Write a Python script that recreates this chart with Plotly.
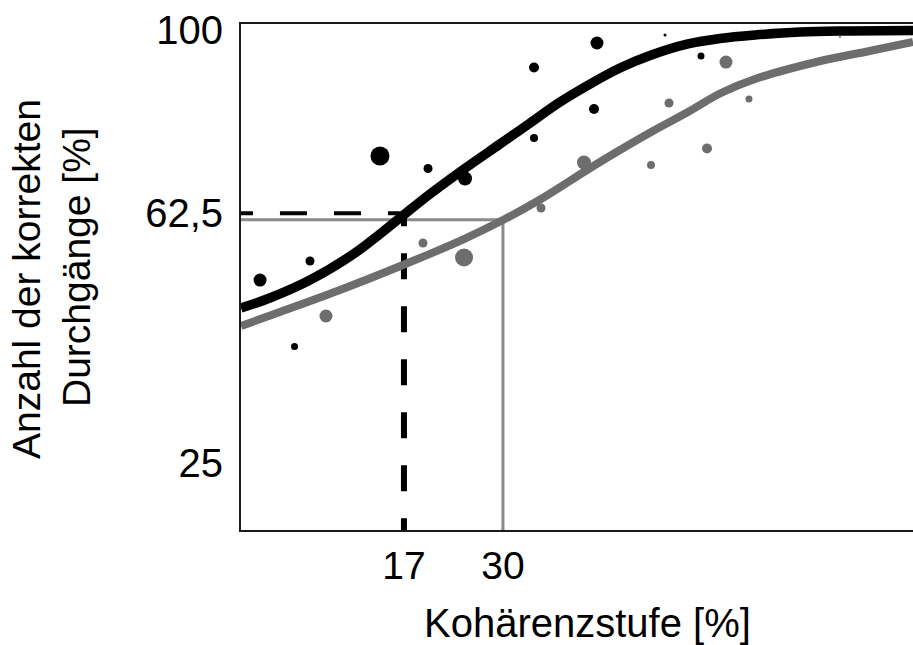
import plotly.graph_objects as go

# ---- data ----
black_dot_x = [-1.90, 4.66, 2.63, 13.85, 20.16, 25.02, 34.08, 34.08, 42.35, 41.96, 51.28, 56.01]
black_dot_y = [48.85, 52.74, 35.25, 74.22, 71.67, 69.62, 92.33, 77.91, 97.34, 83.84, 98.98, 94.68]
black_dot_size = [13, 9, 7, 19, 9, 14, 10, 8, 13, 10, 3, 7]

gray_dot_x = [6.76, 19.50, 24.89, 35.00, 40.64, 49.44, 51.81, 56.80, 59.29, 62.31, 74.26]
gray_dot_y = [41.49, 56.42, 53.46, 63.58, 72.89, 72.38, 85.07, 75.76, 93.45, 85.88, 98.57]
gray_dot_size = [13, 9, 18, 9, 14, 8, 9, 10, 13, 7, 2]

black_curve_x = [-4.40, -0.46, 4.66, 10.57, 13.85, 16.87, 20.42, 24.88, 29.61, 33.55,
                 37.49, 41.43, 45.37, 49.31, 54.30, 58.50, 63.10, 69.01, 75.58, 83.85]
black_curve_y = [43.13, 45.27, 48.85, 54.38, 58.27, 62.05, 66.45, 71.56, 76.68, 80.97,
                 85.27, 88.95, 92.23, 94.78, 97.14, 98.26, 98.98, 99.59, 99.80, 99.90]

gray_curve_x = [-4.40, 0.72, 8.60, 16.87, 24.88, 30.01, 35.00, 41.04, 45.37, 49.70,
                54.30, 58.63, 63.10, 71.70, 78.14, 83.85]
gray_curve_y = [39.44, 42.31, 46.81, 51.92, 57.24, 61.13, 65.43, 71.36, 75.45, 79.34,
                83.22, 87.11, 89.98, 93.66, 95.70, 97.55]

black_threshold_x = 17
black_threshold_y = 62.5
gray_threshold_x = 30
gray_threshold_y = 61.2

x_range = [-4.40, 83.85]
y_range = [-2.29, 101.23]

x_tick_vals = [17, 30]
x_tick_text = ["17", "30"]
y_tick_vals = [100, 62.5, 11.4]
y_tick_text = ["100", "62,5", "25"]

x_title = "Kohärenzstufe [%]"
y_title_lines = ["Anzahl der korrekten", "Durchgänge [%]"]

BLACK = "#000000"
GRAY = "#6d6d6d"
LIGHT_GRAY = "#8a8a8a"
FONT = "Liberation Sans, Arial, sans-serif"

fig = go.Figure()

# dots
fig.add_trace(go.Scatter(x=black_dot_x, y=black_dot_y, mode="markers",
                         marker=dict(color=BLACK, size=black_dot_size, opacity=1,
                                     line=dict(width=0)),
                         showlegend=False, hoverinfo="skip"))
fig.add_trace(go.Scatter(x=gray_dot_x, y=gray_dot_y, mode="markers",
                         marker=dict(color=GRAY, size=gray_dot_size, opacity=1,
                                     line=dict(width=0)),
                         showlegend=False, hoverinfo="skip"))

# gray threshold lines (thin, solid)
fig.add_trace(go.Scatter(x=[x_range[0], gray_threshold_x, gray_threshold_x],
                         y=[gray_threshold_y, gray_threshold_y, y_range[0]],
                         mode="lines", line=dict(color=LIGHT_GRAY, width=3),
                         showlegend=False, hoverinfo="skip"))

# black dashed threshold lines (drawn from the corner outwards)
fig.add_trace(go.Scatter(x=[black_threshold_x, x_range[0]],
                         y=[black_threshold_y, black_threshold_y],
                         mode="lines",
                         line=dict(color=BLACK, width=4, dash="16px,27px,27px,27px,11px,0px"),
                         showlegend=False, hoverinfo="skip"))
fig.add_trace(go.Scatter(x=[black_threshold_x, black_threshold_x],
                         y=[black_threshold_y, y_range[0]],
                         mode="lines",
                         line=dict(color=BLACK, width=6, dash="13px,27px,26px,27px,13px,0px"),
                         showlegend=False, hoverinfo="skip"))

# curves
fig.add_trace(go.Scatter(x=gray_curve_x, y=gray_curve_y, mode="lines",
                         line=dict(color=GRAY, width=8, shape="spline", smoothing=1.0),
                         showlegend=False, hoverinfo="skip"))
fig.add_trace(go.Scatter(x=black_curve_x, y=black_curve_y, mode="lines",
                         line=dict(color=BLACK, width=9.5, shape="spline", smoothing=1.0),
                         showlegend=False, hoverinfo="skip"))

fig.update_layout(
    width=913, height=645,
    margin=dict(l=241, r=0, t=24, b=115),
    plot_bgcolor="white", paper_bgcolor="white",
    font=dict(family=FONT, color="black", size=39),
    xaxis=dict(range=x_range, showgrid=False, zeroline=False,
               showline=True, linecolor="#1a1a1a", linewidth=2, mirror=True,
               tickvals=x_tick_vals, ticktext=x_tick_text, ticks="",
               tickfont=dict(size=39, family=FONT, color="black"),
               ticklabelstandoff=0),
    yaxis=dict(range=y_range, showgrid=False, zeroline=False,
               showline=True, linecolor="#1a1a1a", linewidth=2, mirror=False,
               tickvals=y_tick_vals, ticktext=y_tick_text, ticks="",
               tickfont=dict(size=40, family=FONT, color="black"),
               ticklabelstandoff=8),
    annotations=[
        dict(text=x_title, xref="paper", yref="paper",
             x=0.5156, y=-0.184, xanchor="center", yanchor="middle",
             showarrow=False, font=dict(size=40, family=FONT, color="black")),
        dict(text=y_title_lines[0], xref="paper", yref="paper",
             x=(26 - 241) / 672, y=(530 - 279) / 506, xanchor="center", yanchor="middle",
             textangle=-90, showarrow=False,
             font=dict(size=39, family=FONT, color="black")),
        dict(text=y_title_lines[1], xref="paper", yref="paper",
             x=(76 - 241) / 672, y=(530 - 267) / 506, xanchor="center", yanchor="middle",
             textangle=-90, showarrow=False,
             font=dict(size=39, family=FONT, color="black")),
    ],
)

fig.write_html("out.html")
